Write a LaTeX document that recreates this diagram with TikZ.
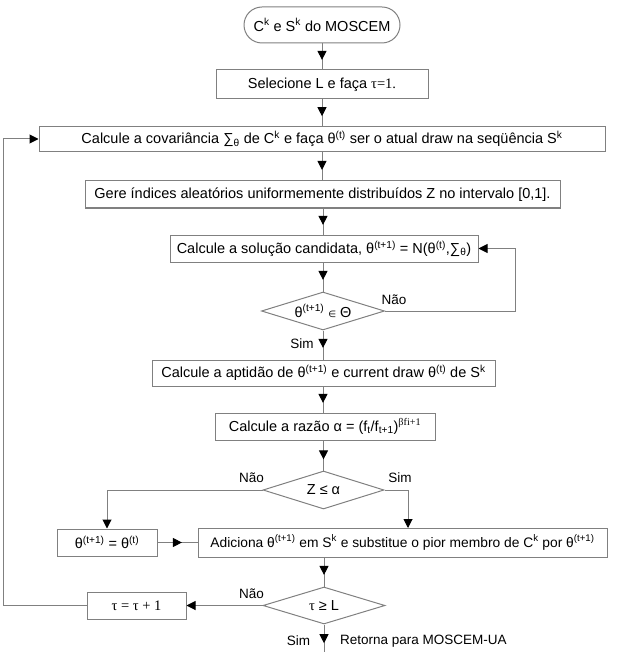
\documentclass[tikz,border=0pt]{standalone}
\usepackage{fontspec}
\setmainfont{Liberation Sans}
\newfontfamily\serifx{Liberation Serif}
\newfontfamily\djv{DejaVu Sans}
\usetikzlibrary{arrows.meta,decorations.markings,shapes.geometric}
\definecolor{lncol}{RGB}{128,128,128}
\definecolor{tipcol}{RGB}{0,0,0}
\tikzset{
  base/.style={font=\fontsize{14.5}{17}\selectfont, text=black},
  box/.style={base, draw=lncol, line width=1pt, rectangle, inner sep=0pt},
  dia/.style={base, draw=lncol, line width=1pt, diamond, aspect=3, inner sep=0pt},
  lbl/.style={font=\fontsize{13.5}{16}\selectfont, text=black, inner sep=0pt},
  conn/.style={draw=lncol, line width=1pt},
  midarr/.style={postaction={decorate}, decoration={markings, mark=at position #1 with {\arrow{Triangle[length=9pt,width=9pt,color=tipcol]}}}},
  endarr/.style={-{Triangle[length=9pt,width=9pt,color=tipcol]}},
}
\begin{document}
\begin{tikzpicture}[x=1pt,y=-1pt]
\useasboundingbox (0,0) rectangle (630,652);
% nodes
\node[box, rounded corners=18pt, minimum width=156pt, minimum height=36pt] (start) at (322,25) {C\textsuperscript{k} e S\textsuperscript{k} do MOSCEM};
\node[box, minimum width=212pt, minimum height=29pt] (b2) at (322,84.5) {Selecione L e faça {\serifx τ=1.}};
\node[box, minimum width=566pt, minimum height=25pt] (b3) at (322,139) {Calcule a covariância ∑\textsubscript{θ} de C\textsuperscript{k} e faça θ\textsuperscript{(t)} ser o atual draw na seqüência S\textsuperscript{k}};
\node[box, minimum width=475pt, minimum height=27pt] (b4) at (322.5,194.5) {Gere índices aleatórios uniformemente distribuídos Z no intervalo [0,1].};
\node[box, minimum width=308pt, minimum height=27pt] (b5) at (324,248.5) {Calcule a solução candidata, θ\textsuperscript{(t+1)} = N(θ\textsuperscript{(t)},∑\textsubscript{θ})};
\node[dia, minimum width=123pt, minimum height=38pt] (d1) at (323,311) {\makebox[0pt]{θ\textsuperscript{(t+1)} {\djv\small ∈} Θ}};
\node[box, minimum width=343pt, minimum height=26pt] (b6) at (323.5,373) {Calcule a aptidão de θ\textsuperscript{(t+1)} e current draw θ\textsuperscript{(t)} de S\textsuperscript{k}};
\node[box, minimum width=220pt, minimum height=27pt] (b7) at (325,426.5) {Calcule a razão α = (f\textsubscript{t}/f\textsubscript{t+1})\textsuperscript{\serifx βfi+1}};
\node[dia, minimum width=121pt, minimum height=38pt] (d2) at (323.5,490) {\makebox[0pt]{Z ≤ α}};
\node[box, minimum width=100pt, minimum height=27pt] (sb) at (107,542.5) {θ\textsuperscript{(t+1)} = θ\textsuperscript{(t)}};
\node[box, minimum width=409pt, minimum height=29pt, font=\fontsize{13.8}{16}\selectfont] (b8) at (402.5,542.5) {Adiciona θ\textsuperscript{(t+1)} em S\textsuperscript{k} e substitue o pior membro de C\textsuperscript{k} por θ\textsuperscript{(t+1)}};
\node[dia, minimum width=122pt, minimum height=37pt] (d3) at (324,605.5) {\makebox[0pt]{{\serifx τ} ≥ L}};
\node[box, minimum width=99pt, minimum height=27pt] (tb) at (136.5,605.5) {\serifx τ = τ + 1};
% labels
\node[lbl] (n1) at (394,300) {Não};
\node[lbl] (s1) at (302,344) {Sim};
\node[lbl] (n2) at (251.5,478) {Não};
\node[lbl] (s2) at (400,478) {Sim};
\node[lbl] (n3) at (251.5,594) {Não};
\node[lbl] (s3) at (298.5,641) {Sim};
\node[lbl, anchor=west] (ret) at (340,641) {Retorna para MOSCEM-UA};
% helper coordinates
\coordinate (lpx) at (3,0);
\coordinate (rpx) at (515,0);
\coordinate (rbr) at (408,528);
\coordinate (bot) at (0,652);
% connectors
\draw[conn, midarr=0.63] (start.south) -- (start.south |- b2.north);
\draw[conn, midarr=0.63] (b2.south) -- (b2.south |- b3.north);
\draw[conn, midarr=0.63] (b3.south -| b2.south) -- (b2.south |- b4.north);
\draw[conn, midarr=0.63] (b4.south -| d1.north) -- (d1.north |- b5.north);
\draw[conn, midarr=0.6] (d1.north |- b5.south) -- (d1.north);
\draw[conn, endarr] (d1.east) -- (d1.east -| rpx) |- (b5.east);
\draw[conn, midarr=0.6] (d1.south) -- (d1.south |- b6.north);
\draw[conn, midarr=0.63] (d1.south |- b6.south) -- (d1.south |- b7.north);
\draw[conn, midarr=0.63] (d2.north |- b7.south) -- (d2.north);
\draw[conn, endarr] (d2.west) -| (sb.north);
\draw[conn, endarr] (d2.east) -| (rbr);
\draw[conn, midarr=0.61] (sb.east) -- (b8.west);
\draw[conn, midarr=0.6] (d3.north |- b8.south) -- (d3.north);
\draw[conn, endarr] (d3.west) -- (tb.east);
\draw[conn, endarr] (tb.west) -- (tb.west -| lpx) |- (b3.west);
\draw[conn, midarr=0.68] (d3.south) -- (d3.south |- bot);
\end{tikzpicture}
\end{document}
